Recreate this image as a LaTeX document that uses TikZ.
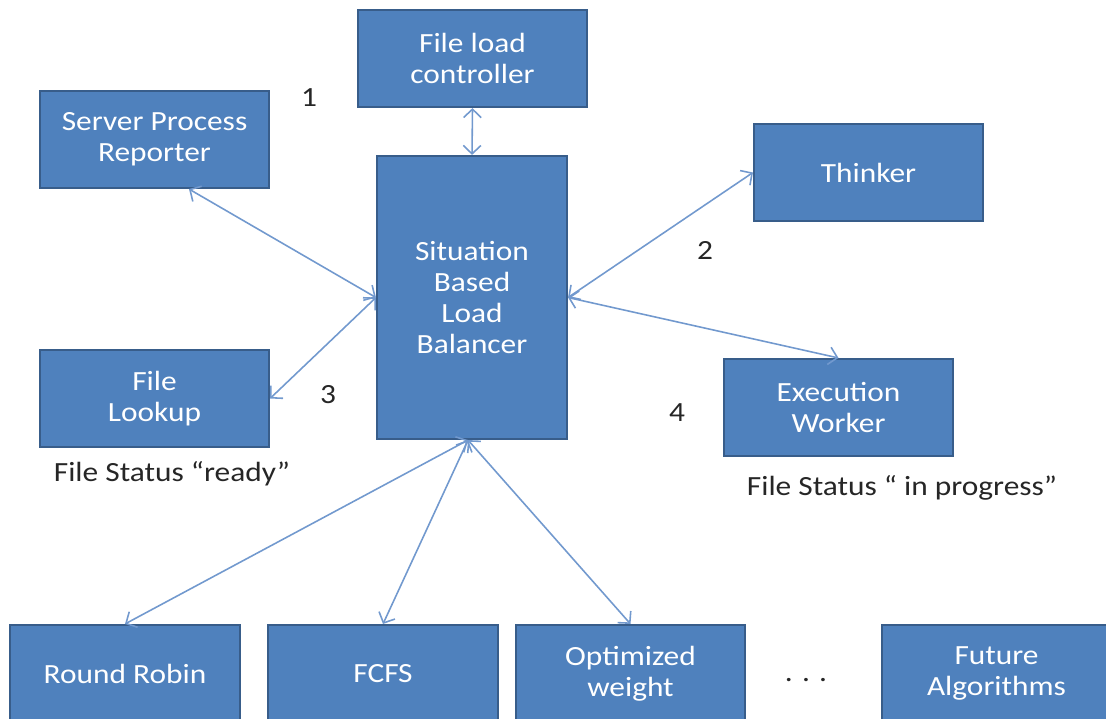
\documentclass[tikz,border=0pt]{standalone}
\usepackage{fontspec}
\setmainfont{Carlito}[FakeStretch=1.13]
\usepackage{xcolor}
\usetikzlibrary{arrows.meta, positioning}

\definecolor{boxfill}{HTML}{4F81BD}
\definecolor{boxline}{HTML}{385D8A}
\definecolor{linkblue}{HTML}{7299CE}
\definecolor{labelgray}{HTML}{262626}

\begin{document}
\begin{tikzpicture}[x=1cm, y=1cm,
    block/.style={rectangle, draw=boxline, line width=0.6pt, fill=boxfill, text=white,
        minimum width=2.29cm, minimum height=0.97cm, align=center,
        font=\fontsize{7.9}{8.9}\selectfont, inner sep=0pt},
    link/.style={draw=linkblue, line width=0.45pt, {Straight Barb[length=2.4pt,width=5pt]}-{Straight Barb[length=2.4pt,width=5pt]}},
    note/.style={text=labelgray, font=\fontsize{7.9}{8.9}\selectfont, inner sep=0pt}]
    \clip (0,0) rectangle (11.06,-7.18);

    % top row
    \node[block] (ctrl) at (4.725,-0.585) {File load\\controller};
    \node[block] (spr) at (1.545,-1.395) {Server Process\\Reporter};
    \node[block] (thinker) at (8.685,-1.725) {Thinker};

    % balancer in the middle
    \node[block, minimum width=1.90cm, minimum height=2.83cm] (sblb) at (4.72,-2.975) {Situation\\Based\\Load\\Balancer};

    \node[block] (lookup) at (1.545,-3.985) {File\\Lookup};
    \node[block] (worker) at (8.385,-4.075) {Execution\\Worker};

    % algorithms
    \node[block, minimum width=2.30cm] (rr) at (1.25,-6.735) {Round Robin};
    \node[block, minimum width=2.30cm] (fcfs) at (3.83,-6.735) {FCFS};
    \node[block] (ow) at (6.305,-6.735) {Optimized\\weight};
    \node[block] (future) at (9.965,-6.735) {Future\\Algorithms};

    % labels
    \node[note] (n1) at (3.09,-0.98) {1};
    \node[note] (n2) at (7.05,-2.50) {2};
    \node[note] (n3) at (3.28,-3.95) {3};
    \node[note] (n4) at (6.77,-4.13) {4};
    \node[note] (ready) at (1.72,-4.74) {File Status “ready”};
    \node[note] (progress) at (9.02,-4.88) {File Status “ in progress”};
    \node[note] (dots) at (8.06,-6.80) {.\,\,.\,\,.};

    \draw[link] (ctrl.south) -- (sblb.north);
    \draw[link] ([xshift=3.45mm]spr.south) -- (sblb.west);
    \draw[link] (lookup.east) -- (sblb.west);
    \draw[link] (thinker.west) -- (sblb.east);
    \draw[link] (worker.north) -- (sblb.east);
    \draw[link] ([xshift=-0.4mm]sblb.south) -- (rr.north);
    \draw[link] ([xshift=-0.4mm]sblb.south) -- (fcfs.north);
    \draw[link] ([xshift=-0.4mm]sblb.south) -- (ow.north);
\end{tikzpicture}
\end{document}
